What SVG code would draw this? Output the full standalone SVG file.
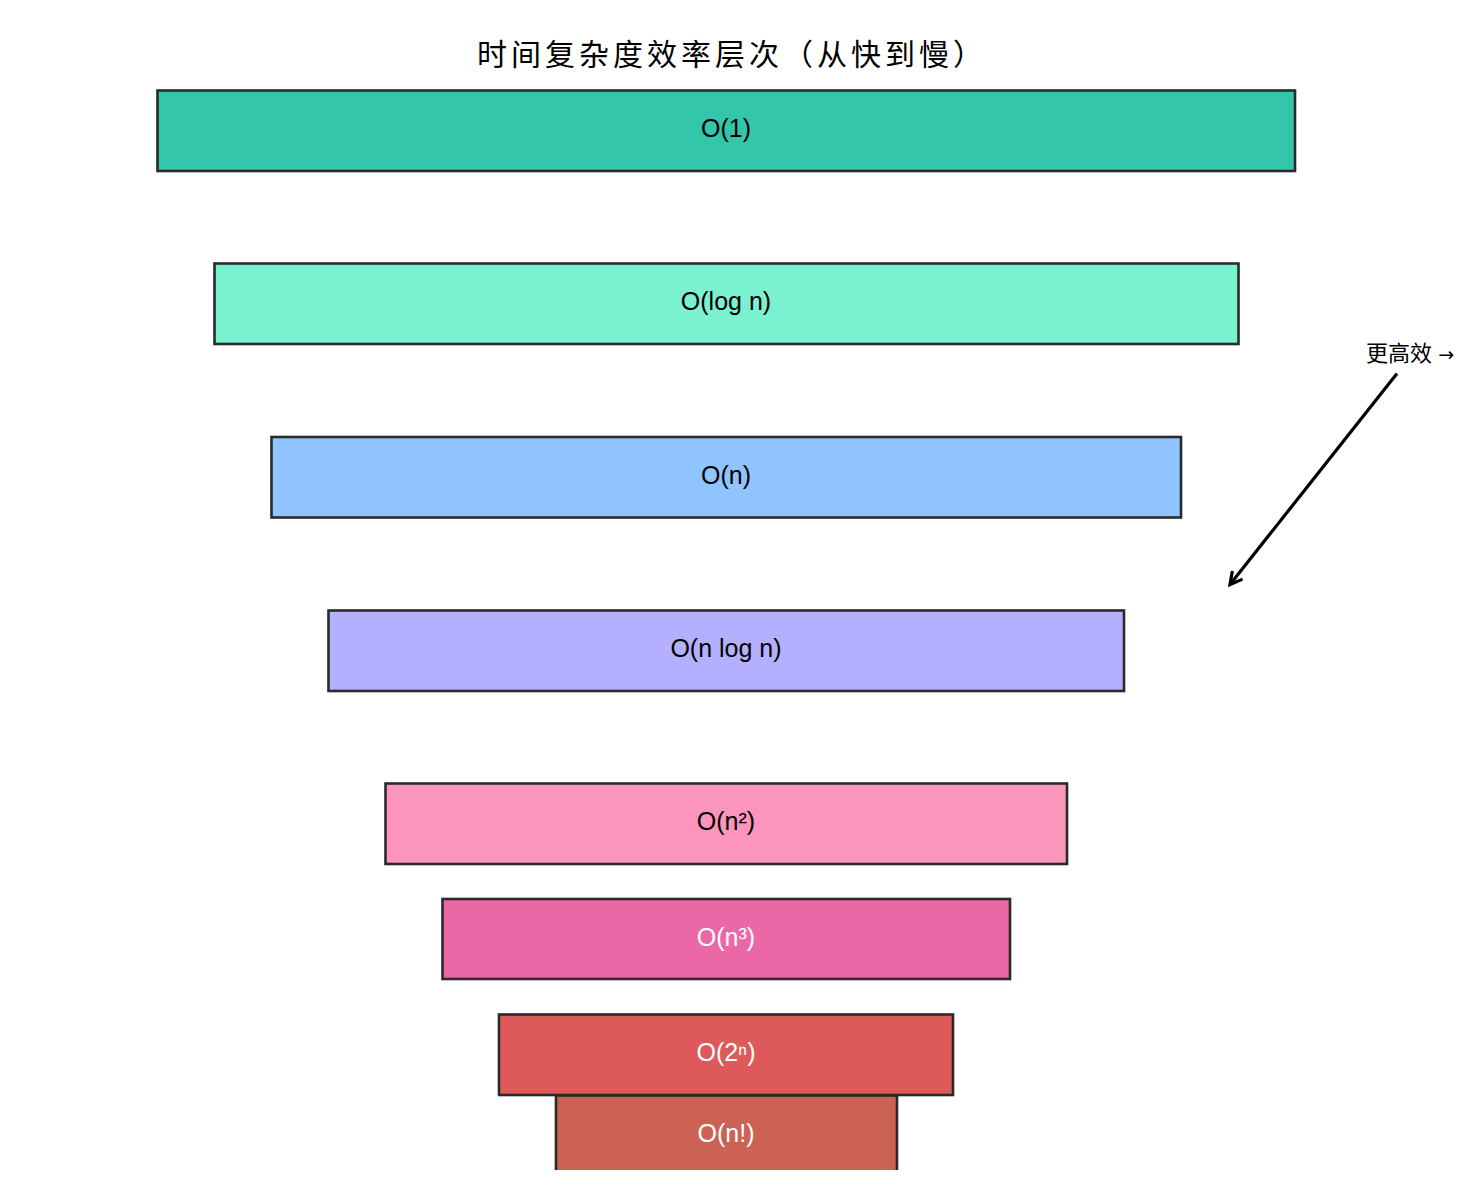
<svg xmlns="http://www.w3.org/2000/svg" width="1471" height="1185" viewBox="0 0 1471 1185">
<style>
.box{stroke:#2a2a2a;stroke-width:2.6}
.lbl{font-family:"Liberation Sans",Arial,sans-serif;font-size:25px;text-anchor:middle}
.dk{fill:#000}
.lt{fill:#fff}
.title{font-family:"Noto Sans CJK SC","Liberation Sans",sans-serif;font-size:30px;letter-spacing:4px;fill:#000}
.note{font-family:"Liberation Sans","Noto Sans CJK SC",sans-serif;font-size:22px;fill:#000}
.arr{font-family:"DejaVu Sans",sans-serif;font-size:19px}
</style>
<defs>
<clipPath id="clip"><rect x="0" y="0" width="1471" height="1170"/></clipPath>
<marker id="ah" markerWidth="18" markerHeight="18" refX="13" refY="9" orient="auto" markerUnits="userSpaceOnUse">
<polyline points="1,2.5 13,9 1,15.5" fill="none" stroke="#000" stroke-width="3.2" stroke-linejoin="miter"/>
</marker>
</defs>
<rect width="1471" height="1185" fill="#fff"/>
<text class="title" x="732" y="65" text-anchor="middle">时间复杂度效率层次（从快到慢）</text>
<g id="n1"><rect class="box" x="157.5" y="90.5" width="1137.5" height="80.5" fill="#34c6aa"/><text class="lbl dk" x="726" y="137">O(1)</text></g>
<g id="nlogn0"><rect class="box" x="214.5" y="263.5" width="1024" height="80.5" fill="#7af2d0"/><text class="lbl dk" x="726" y="310">O(log n)</text></g>
<g id="nn"><rect class="box" x="271.5" y="437" width="909.5" height="80.5" fill="#90c4ff"/><text class="lbl dk" x="726" y="483.5">O(n)</text></g>
<g id="nnlogn"><rect class="box" x="328.5" y="610.5" width="795.5" height="80.5" fill="#b4b0ff"/><text class="lbl dk" x="726" y="657">O(n log n)</text></g>
<g id="nn2"><rect class="box" x="385.5" y="783.5" width="681.5" height="80.5" fill="#fc95bb"/><text class="lbl dk" x="726" y="830">O(n²)</text></g>
<g id="nn3"><rect class="box" x="442.5" y="899" width="567.5" height="80" fill="#ea68a6"/><text class="lbl lt" x="726" y="945.5">O(n³)</text></g>
<g id="n2n"><rect class="box" x="499" y="1014.5" width="454" height="80.5" fill="#de5a5a"/><text class="lbl lt" x="726" y="1061">O(2ⁿ)</text></g>
<g id="nfact" clip-path="url(#clip)"><rect class="box" x="556" y="1095.5" width="341" height="90" fill="#cb6254"/><text class="lbl lt" x="726" y="1142">O(n!)</text></g>
<g id="connectors">
<line x1="1397" y1="373.5" x2="1230" y2="584.5" stroke="#000" stroke-width="3.2" marker-end="url(#ah)"/>
<text class="note" x="1366" y="361">更高效 <tspan class="arr">→</tspan></text>
</g>
</svg>
